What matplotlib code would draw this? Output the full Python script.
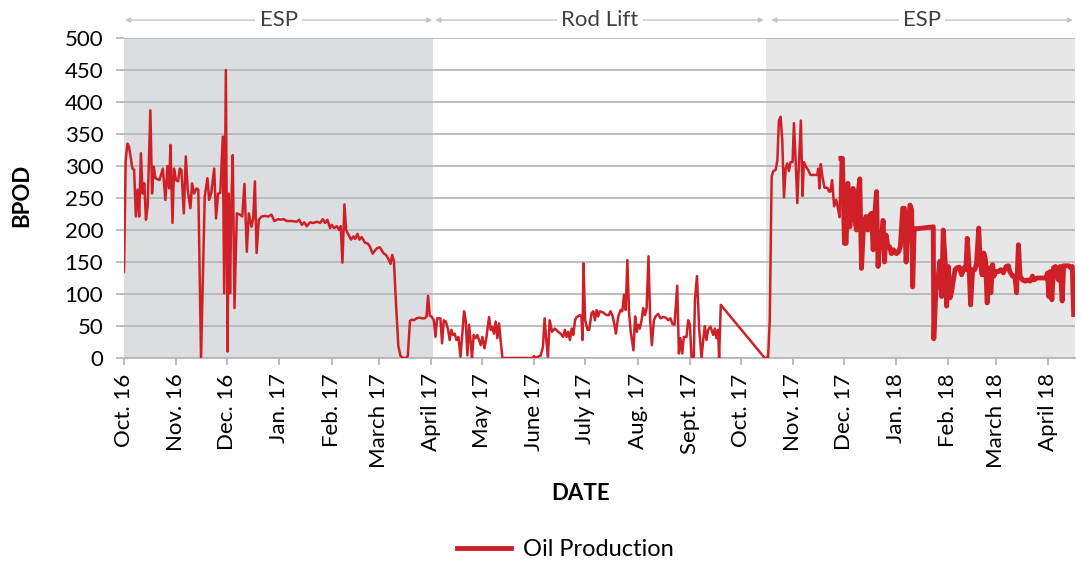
import numpy as np
import pandas as pd
import matplotlib
matplotlib.use('Agg')
import matplotlib.pyplot as plt
import matplotlib.dates as mdates
from matplotlib import transforms
from matplotlib.lines import Line2D

plt.rcParams['font.family'] = ['Lato', 'DejaVu Sans']

start_date = pd.Timestamp('2016-10-01')
end_date = pd.Timestamp('2018-04-17')

# dias desde el 1 oct 2016 y produccion de crudo
day_offset = [
    0, 1, 2, 3, 5, 6, 7, 8, 9, 10, 11, 12, 13, 14, 15.6, 16.6, 17.6, 18.6, 21, 23,
    24.5, 25.7, 26.7, 27.5, 28.7, 29.6, 30.8, 32, 33, 34, 35.4, 36.6, 37.7, 39.3, 40.3, 41.5,
    43, 44, 45.6, 47, 47.8, 49.4, 50.4, 51.6, 53.4, 54.5, 55.7, 57, 58.5, 59.3, 60.3, 61.3,
    62, 62.8, 63.5, 64.4, 65.4, 66.8, 68.6, 70, 71.3, 72.7, 73.9, 75.5, 76.5, 77.5, 78.5,
    79.8, 81.4, 83.4, 85.4, 87.3, 89, 91.3,
    92.5, 94.5, 96.4, 99.4, 102.3, 103.7, 105.3, 106.7, 108.2, 110.2, 112.2, 114.1, 116.1,
    117.7, 119, 120.4, 122, 123, 124.4, 126, 127.3, 128.3, 129.3, 130.5, 131.5, 132.8, 134.4,
    135.8, 136.8, 138.2, 139.4, 140.7, 142.7, 144.3, 145.6, 147.2, 148.6, 150, 151.5, 153.5,
    155.1, 156.5, 157.8, 158.8, 159.8, 161, 162.4, 163.7, 165.3, 166.9, 168, 169.3, 170.3,
    171.6, 173.2, 174.8, 176.7, 178.1, 179.1, 180, 181,
    182, 183.4, 184.4, 185.4, 187.3, 188.3, 189.3, 190.5, 191.9, 192.8, 193.8, 194.8, 195.8,
    196.8, 198, 199.2, 200.3, 201.3, 202.3, 203.3, 204.3, 205.3, 206, 207, 208.2, 209.2,
    210.2, 211.2, 212.2, 213.4, 214.5, 216.1, 217.1, 218, 219, 220, 221, 222, 224, 241.8,
    242.7, 243.7, 245.1, 246.7, 248, 249, 250, 251, 252, 253.4, 255, 257, 258.5, 260, 261,
    262, 263, 264, 265, 266, 267, 268, 270, 270.8, 271.4, 272, 273, 274.4, 275.4,
    276.8, 277.8, 278.8, 279.8, 280.7, 281.7, 283.7, 285.7, 287, 288, 289.2, 290.2, 291.2,
    292.6, 294, 295, 296, 297, 298, 299, 300, 301.6, 302.6, 303.6, 304.4, 305.4, 306.4,
    307.4, 308.4, 309.4, 310.5, 311.5, 312.5, 313.7, 314.7, 316.2, 317.6, 319.2, 320.8,
    322.1, 323.5, 324.7, 325.9, 327.5, 328.5, 329.4, 330.5, 331.4, 333, 334, 335, 336,
    337.3, 338, 339.2, 340.5, 341.9, 342.9, 343.8, 344.8, 345.8, 347.2, 348.8, 349.8, 350.7,
    351.7, 352.3, 353.3, 379.3, 381.3,
    382.3, 383.4, 384.4, 385.8, 386.8, 387.7, 388.7, 389.7, 390.7, 391.7, 392.7, 393.6,
    394.6, 395.8, 396.6, 397.6, 398.6, 399.7, 400.7, 401.7, 402.5, 403.7, 405, 406.4, 408.4,
    410.4, 411, 411.7, 412.5, 413.5, 414.7, 416.3, 417.4, 418.2, 419.2, 420.4, 421.6, 422.6,
    423.6, 424.4, 425.3, 426.5, 427.5, 428.5, 429.7, 430.6, 431.6, 432.6, 433.6, 434.6,
    435.6, 436.6, 437.6, 439.2, 440.3, 441.5, 442.5, 443.5, 444.5, 445.5, 446.4, 447.4,
    448.4, 449.4, 450.2, 451.2, 452.2, 453.2, 454.3, 455.6, 457.3, 458.6, 459.6, 461, 462,
    463, 464.1, 465.3, 466.3, 466.9, 467.8, 469.4, 479.1,
    479.4, 480.7, 482, 483, 484, 485, 486.2, 487, 488, 489, 490, 491, 492, 493, 494.5,
    495.9, 497.3, 498.4, 499.2, 500.2, 501.2, 502.4, 503.7, 504.7, 506, 507, 508, 509, 510,
    511, 512.2, 513.2, 514.2, 515, 516.2, 517.5, 519, 520.6, 522.2, 523.6, 524.4, 526,
    527.4, 528.4, 529.5, 530.5, 531.9, 533.5, 534.8, 536.4, 537.8, 538.8, 540.4, 542.3,
    544.3, 545.9, 546.7, 547.5, 548.3, 549.3, 550.3, 551.5, 552.2, 553.2, 554.2, 555.4,
    556.3, 557.7, 559.3, 560.4, 561.4, 562.2,
]
oil_bpod = [
    135, 309, 335, 330, 296, 294, 221, 263, 221, 320, 257, 273, 216, 237, 387, 257, 299, 281, 278, 296,
    247, 300, 265, 333, 211, 296, 278, 276, 296, 294, 226, 315, 263, 234, 273, 257,
    265, 263, 0, 164, 252, 281, 247, 257, 296, 218, 257, 258, 346, 101, 450, 10,
    257, 101, 237, 317, 78, 226, 224, 221, 272, 166, 226, 205, 218, 276, 164,
    216, 221, 222, 221, 224, 214, 217,
    216, 217, 214, 214, 213, 216, 208, 212, 206, 212, 211, 213, 211,
    217, 211, 216, 203, 208, 203, 206, 200, 206, 149, 240, 200, 193, 185,
    190, 186, 194, 185, 189, 180, 179, 174, 163, 168, 172, 173, 164,
    161, 155, 147, 161, 151, 86, 19, 3, 0, 0, 3, 58, 60,
    59, 62, 63, 62, 62, 65, 97, 66,
    65, 59, 33, 62, 62, 23, 59, 57, 44, 28, 44, 36, 38,
    28, 33, 2, 38, 73, 59, 4, 52, 23, 0, 36, 31, 36,
    28, 20, 33, 15, 31, 64, 44, 49, 38, 57, 31, 54, 0, 0,
    3, 0, 2, 4, 17, 62, 28, 2, 59, 41, 46, 41, 38, 33, 44,
    33, 41, 28, 46, 36, 59, 64, 67, 65, 28, 148, 59, 44, 44,
    70, 73, 59, 75, 65, 73, 71, 67, 67, 73, 66, 54, 38,
    65, 75, 73, 99, 75, 153, 70, 41, 12, 65, 41, 52, 46, 59,
    78, 67, 78, 159, 59, 20, 59, 65, 69, 62, 64, 63,
    59, 62, 53, 52, 113, 7, 31, 7, 33, 33, 59, 52, 0,
    0, 91, 128, 46, 0, 28, 50, 28, 44, 49, 36, 46, 31,
    44, 0, 83, 0, 1,
    59, 283, 292, 294, 309, 371, 377, 340, 251, 296, 304, 292,
    306, 306, 367, 309, 242, 312, 371, 253, 306, 299, 294, 286, 286,
    286, 296, 265, 303, 283, 266, 266, 260, 260, 278, 237, 247, 235,
    220, 312, 312, 179, 179, 273, 205, 234, 265, 218, 200, 257,
    280, 140, 197, 221, 200, 223, 226, 169, 226, 260, 143, 184,
    184, 215, 150, 192, 174, 174, 163, 169, 163, 166, 174, 234, 234,
    150, 205, 239, 231, 111, 202, 202, 205,
    30, 107, 128, 151, 96, 200, 148, 81, 143, 94, 104, 122, 138, 141, 142,
    130, 141, 138, 187, 146, 83, 138, 138, 148, 203, 148, 130, 164, 154,
    86, 141, 102, 146, 128, 135, 135, 138, 133, 143, 144, 135, 128,
    128, 102, 177, 128, 122, 120, 122, 120, 128, 122, 125, 125,
    125, 125, 133, 96, 135, 91, 141, 143, 128, 122, 143, 89,
    144, 144, 144, 141, 143, 68,
]

month_ticks = pd.date_range('2016-10-01', '2018-04-01', freq='MS')
month_labels = ['Oct. 16', 'Nov. 16', 'Dec. 16', 'Jan. 17', 'Feb. 17', 'March 17',
                'April 17', 'May 17', 'June 17', 'July 17', 'Aug. 17', 'Sept. 17',
                'Oct. 17', 'Nov. 17', 'Dec. 17', 'Jan. 18', 'Feb. 18', 'March 18',
                'April 18']

# periodos del sistema de levantamiento (dias desde el inicio)
phase_names = ['ESP', 'Rod Lift', 'ESP']
phase_start = [0.6, 184.4, 383.3]
phase_end = [182.4, 378.8, 561.8]
shade_start = [0, 380]
shade_end = [182.7, 564]
shade_colors = ['#dcdde0', '#e7e7e7']

thick_from = 424.4  # desde aqui la serie se ve mas gruesa

red = '#d02027'
grid_gray = '#b3b3b8'

dates = start_date + pd.to_timedelta(np.array(day_offset), unit='D')
oil = np.array(oil_bpod)
days = np.array(day_offset)

fig = plt.figure(figsize=(10.83, 5.65), dpi=100)
ax = fig.add_axes([124 / 1083, 1 - 358 / 565, (1075 - 124) / 1083, 320 / 565])

for s, e, c in zip(shade_start, shade_end, shade_colors):
    ax.axvspan(start_date + pd.Timedelta(days=s), start_date + pd.Timedelta(days=e),
               color=c, lw=0, zorder=0)

ax.set_ylim(0, 500)
ax.set_yticks(np.arange(0, 501, 50))
ax.yaxis.grid(True, color=grid_gray, lw=1.2, zorder=1)
ax.set_axisbelow(True)

thin = days <= thick_from
thick = days >= thick_from
ax.plot(dates[thin], oil[thin], color=red, lw=1.8, zorder=3, solid_joinstyle='round')
ax.plot(dates[thick], oil[thick], color=red, lw=3.5, zorder=3, solid_joinstyle='round')

ax.set_xlim(start_date, end_date)
ax.set_xticks(month_ticks)
ax.set_xticklabels(month_labels, rotation=90, fontsize=16)
ax.tick_params(axis='x', length=5, width=1.2, color=grid_gray, pad=6)
ax.tick_params(axis='y', length=6, width=1.2, color=grid_gray, labelsize=16, pad=9)

for side in ['left', 'right', 'top']:
    ax.spines[side].set_visible(False)
ax.spines['bottom'].set_color(grid_gray)
ax.spines['bottom'].set_linewidth(1.2)

# flechas de periodos arriba del grafico
trans = transforms.blended_transform_factory(ax.transData, ax.transAxes)
for name, s, e in zip(phase_names, phase_start, phase_end):
    x0 = mdates.date2num(start_date + pd.Timedelta(days=s))
    x1 = mdates.date2num(start_date + pd.Timedelta(days=e))
    ax.annotate('', xy=(x1, 1.056), xytext=(x0, 1.056), xycoords=trans, textcoords=trans,
                arrowprops=dict(arrowstyle='<|-|>', color='#c4c4c8', lw=1.0,
                                mutation_scale=7, shrinkA=0, shrinkB=0),
                annotation_clip=False)
    ax.text((x0 + x1) / 2, 1.056, name, transform=trans, ha='center', va='center',
            fontsize=16, color='#404040',
            bbox=dict(facecolor='white', edgecolor='none', pad=3))

fig.text(22 / 1083, 1 - 195 / 565, 'BPOD', rotation=90, ha='center', va='center',
         fontsize=16, fontweight='bold')
fig.text(581 / 1083, 1 - 493 / 565, 'DATE', ha='center', va='center',
         fontsize=16, fontweight='bold')

handle = Line2D([], [], color=red, lw=3.5)
fig.legend(handles=[handle], labels=['Oil Production'], loc='center',
           bbox_to_anchor=(565 / 1083, 1 - 550 / 565), frameon=False, fontsize=17,
           handlelength=2.3, handletextpad=0.5)

fig.savefig('out.png', dpi=100)
